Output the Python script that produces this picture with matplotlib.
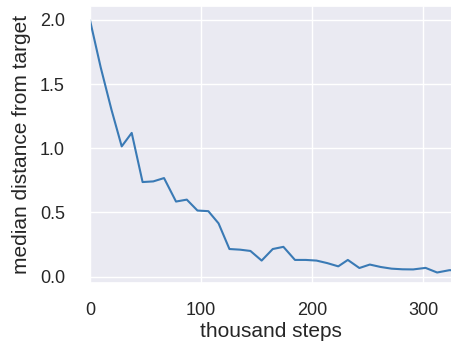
import matplotlib
matplotlib.use("Agg")
import matplotlib.pyplot as plt
import seaborn as sns

# training progress: median distance to target, sampled every ~9.75k steps
steps = [0, 9.7, 19.4, 28.6, 37.6, 47.4, 57.0, 66.7, 77.5, 87.2, 96.8,
         106.6, 115.8, 125.6, 135.2, 144.5, 154.6, 164.6, 174.2, 184.6,
         194.4, 204.0, 213.8, 223.6, 232.2, 242.6, 252.0, 261.8, 271.6,
         281.4, 291.0, 302.2, 312.6, 323.6, 333.0]
median_dist = [2.0, 1.63, 1.30, 1.015, 1.12, 0.737, 0.742, 0.768, 0.585, 0.60, 0.515,
               0.51, 0.415, 0.215, 0.21, 0.20, 0.125, 0.215, 0.232, 0.13,
               0.13, 0.125, 0.105, 0.08, 0.13, 0.067, 0.094, 0.075, 0.062,
               0.057, 0.056, 0.068, 0.032, 0.05, 0.05]

sns.set_theme(style="darkgrid")
plt.rcParams['font.family'] = ['Liberation Sans', 'DejaVu Sans']

fig = plt.figure(figsize=(4.52, 3.46), dpi=100)
ax = fig.add_axes([0.199, 0.182, 0.801, 0.801])

ax.plot(steps, median_dist, color='#3a7ab5', linewidth=1.5)

ax.set_xlim(0, 326)
ax.set_ylim(-0.05, 2.11)
ax.set_xticks([0, 100, 200, 300])
ax.set_yticks([0.0, 0.5, 1.0, 1.5, 2.0])
ax.set_yticklabels(['0.0', '0.5', '1.0', '1.5', '2.0'])
ax.tick_params(axis='both', labelsize=13, colors='#262626')
ax.tick_params(axis='x', pad=8)
ax.tick_params(axis='y', pad=12)

ax.set_xlabel('thousand steps', fontsize=15, color='#262626', labelpad=1.5)
ax.set_ylabel('median distance from target', fontsize=15, color='#262626', labelpad=6)

fig.savefig('out.png', dpi=100)
